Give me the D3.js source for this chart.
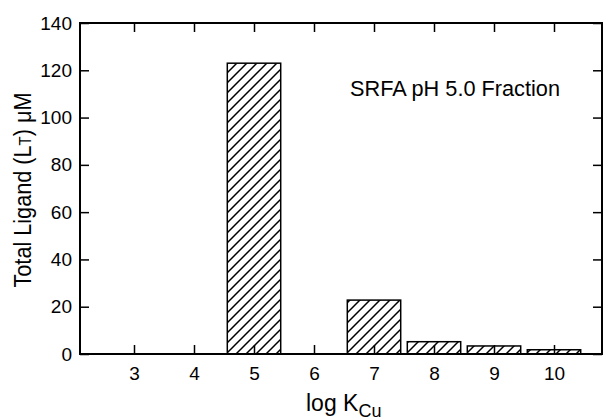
<!DOCTYPE html>
<html>
<head>
<meta charset="utf-8">
<script src="https://cdn.jsdelivr.net/npm/d3@7"></script>
<style>
  body { margin: 0; background: #fff; }
  svg text { font-family: "Liberation Sans", Arial, sans-serif; fill: #000; }
</style>
</head>
<body>
<svg id="svg" width="603" height="417"></svg>
<script>
// values
var logK = [3, 4, 5, 6, 7, 8, 9, 10];
var ligand = [0, 0, 123, 0, 22.8, 5.2, 3.4, 1.8];
var yTicks = [0, 20, 40, 60, 80, 100, 120, 140];
var label = "SRFA pH 5.0 Fraction";

(function () {
  var pLeft = 80, pRight = 602, pTop = 23, pBottom = 354;
  var svg = d3.select("#svg");

  var x = d3.scaleLinear().domain([2.1, 10.8]).range([pLeft, pRight]);
  var y = d3.scaleLinear().domain([0, 140]).range([pBottom, pTop]);
  var barW = x(3.89) - x(3);

  // hatch pattern
  var pat = svg.append("defs").append("pattern")
    .attr("id", "hatch")
    .attr("patternUnits", "userSpaceOnUse")
    .attr("width", 10)
    .attr("height", 10);
  pat.append("rect").attr("width", 10).attr("height", 10).attr("fill", "#fff");
  pat.append("path")
    .attr("d", "M-2,2 L2,-2 M0,10 L10,0 M8,12 L12,8")
    .attr("stroke", "#000")
    .attr("stroke-width", 1.5);

  var bars = logK.map(function (k, i) { return { k: k, v: ligand[i] }; })
    .filter(function (d) { return d.v > 0; });

  svg.append("g").selectAll("rect")
    .data(bars)
    .enter().append("rect")
    .attr("x", function (d) { return x(d.k) - barW / 2; })
    .attr("y", function (d) { return y(d.v); })
    .attr("width", barW)
    .attr("height", function (d) { return y(0) - y(d.v); })
    .attr("fill", "url(#hatch)")
    .attr("stroke", "#000")
    .attr("stroke-width", 1.5);

  // axes, ticks pointing inward
  var bottomAxis = d3.axisBottom(x).tickValues(logK).tickSize(-9).tickPadding(13)
    .tickFormat(d3.format("d"));
  var topAxis = d3.axisTop(x).tickValues(logK).tickSize(-9).tickFormat("");
  var leftAxis = d3.axisLeft(y).tickValues(yTicks).tickSize(-9).tickPadding(8);
  var rightAxis = d3.axisRight(y).tickValues(yTicks).tickSize(-9).tickFormat("");

  function style(g) {
    g.attr("font-family", null).attr("font-size", null);
    g.select(".domain").remove();
    g.selectAll(".tick line").attr("stroke", "#000").attr("stroke-width", 1.5);
    g.selectAll(".tick text").attr("font-size", 19);
  }

  svg.append("g").attr("transform", "translate(0," + pBottom + ")").call(bottomAxis).call(style);
  svg.append("g").attr("transform", "translate(0," + pTop + ")").call(topAxis).call(style);
  svg.append("g").attr("transform", "translate(" + pLeft + ",0)").call(leftAxis).call(style);
  svg.append("g").attr("transform", "translate(" + pRight + ",0)").call(rightAxis).call(style);

  // frame
  svg.append("rect")
    .attr("x", pLeft).attr("y", pTop)
    .attr("width", pRight - pLeft).attr("height", pBottom - pTop)
    .attr("fill", "none").attr("stroke", "#000").attr("stroke-width", 2);

  // annotation
  svg.append("text")
    .attr("x", 350).attr("y", 96)
    .attr("font-size", 22.5)
    .attr("textLength", 210)
    .attr("lengthAdjust", "spacingAndGlyphs")
    .text(label);

  // y title
  var yt = svg.append("text")
    .attr("transform", "translate(31,190) rotate(-90)")
    .attr("text-anchor", "middle")
    .attr("font-size", 23)
    .attr("textLength", 195)
    .attr("lengthAdjust", "spacingAndGlyphs");
  yt.append("tspan").text("Total Ligand (L");
  yt.append("tspan").attr("font-size", 16).text("T");
  yt.append("tspan").text(") μM");

  // x title
  var xt = svg.append("text")
    .attr("x", 306).attr("y", 411)
    .attr("font-size", 23);
  xt.append("tspan").text("log K");
  xt.append("tspan").attr("font-size", 18).attr("dy", 6).text("Cu");
})();
</script>
</body>
</html>
